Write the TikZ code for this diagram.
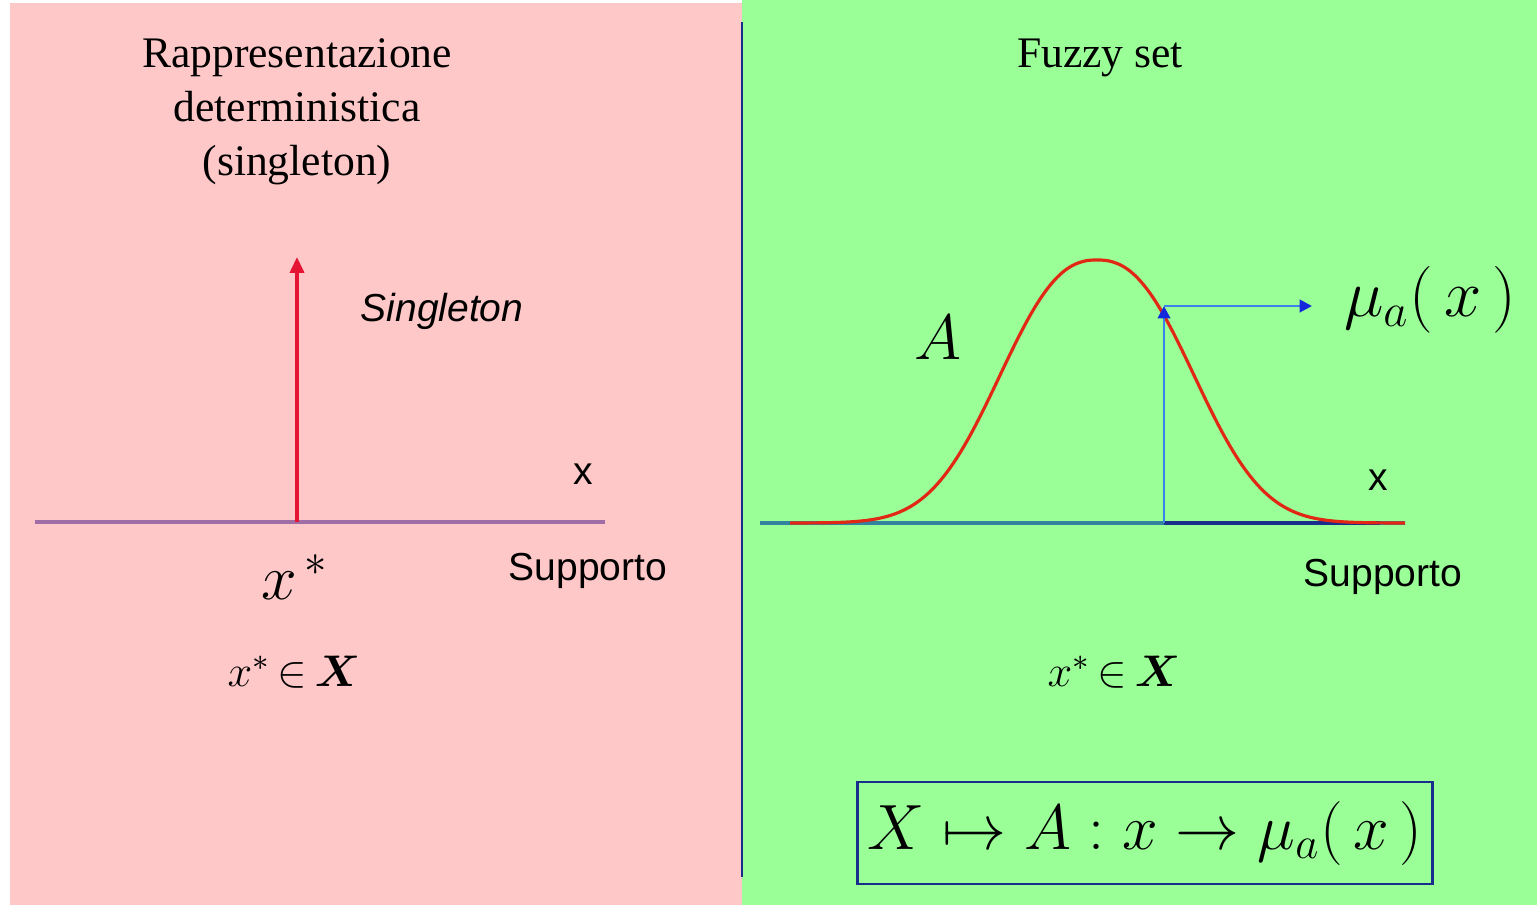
\RequirePackage{fix-cm}
\documentclass[tikz,border=0pt]{standalone}
\usepackage{amsmath,amssymb}
\usepackage{bm}
\usepackage{fontspec}
\setmainfont{Liberation Serif}
\setsansfont{Liberation Sans}
\usetikzlibrary{arrows.meta,positioning}
\definecolor{pinkbg}{RGB}{255,200,200}
\definecolor{greenbg}{RGB}{155,255,152}
\definecolor{spikered}{RGB}{228,20,50}
\definecolor{axispurple}{RGB}{160,110,165}
\definecolor{axisteal}{RGB}{50,130,160}
\definecolor{navy}{RGB}{25,45,140}
\definecolor{arrowblue}{RGB}{60,130,235}
\definecolor{headblue}{RGB}{20,40,220}
\definecolor{curvered}{RGB}{225,40,20}

\begin{document}
\begin{tikzpicture}[x=0.01cm,y=-0.01cm, every node/.style={inner sep=0pt,align=center},
  sanslabel/.style={font=\sffamily\fontsize{11.1}{13}\selectfont},
  titlelabel/.style={font=\fontsize{12.4}{15.4}\selectfont},
  biglabel/.style={font=\fontsize{18.2}{22}\selectfont},
  midlabel/.style={font=\fontsize{12.6}{15}\selectfont}]
\useasboundingbox (0,0) rectangle (1537,905);
\fill[pinkbg] (10,3) rectangle (742,905);
\fill[greenbg] (742,0) rectangle (1537,905);
\draw[navy,line width=0.8pt] (742,22) -- (742,877);

% left panel: singleton
\node[titlelabel] (ltitle) at (297,112) {Rappresentazione\\deterministica\\(singleton)};
\coordinate (laxL) at (35,522);
\coordinate (laxR) at (605,522);
\coordinate (spikebase) at (297,522);
\coordinate (spiketop) at (297,257);
\draw[axispurple,line width=0.9pt] (laxL) -- (laxR);
\draw[spikered,line width=0.9pt,-{Triangle[width=4pt,length=4.5pt]}] (spikebase) -- (spiketop);
\node[sanslabel,font=\sffamily\itshape\fontsize{11.1}{13}\selectfont] (singl) at (442,311) {Singleton};
\node[sanslabel] (lx) at (583,474) {x};
\node[sanslabel] (lsupp) at (588,571) {Supporto};
\node[biglabel] (xstar) at (295,577) {$x^{\,*}$};
\node[midlabel] (lin) at (294,672) {$x^{*}\,{\in}\,\bm{X}$};

% right panel: fuzzy set
\node[titlelabel] (rtitle) at (1100,58) {Fuzzy set};
\coordinate (raxL) at (760,523);
\coordinate (raxR) at (1405,523);
\coordinate (foot) at (1164,523);
\coordinate (hit) at (1164,306);
\coordinate (outp) at (1312,306);
\draw[axisteal,line width=0.9pt] (raxL) -- (raxR);
\draw[navy,line width=0.9pt] (foot) -- (1380,523);
\draw[curvered,line width=0.9pt] plot[domain=790:1405,samples=124,smooth]
  (\x,{523-263*exp(-((abs(\x-1097)+0.01)/122)^2.4)});
\draw[arrowblue,line width=0.8pt,-{Triangle[width=3.5pt,length=3.5pt,color=headblue]}] (foot) -- (hit);
\draw[arrowblue,line width=0.8pt,-{Triangle[width=3.5pt,length=3.5pt,color=headblue]}] (hit) -- (outp);
\node[biglabel,font=\fontsize{19}{22}\selectfont] (mu) at (1430,300) {$\mu_a(\,x\,)$};
\node[biglabel] (setA) at (938,338) {$A$};
\node[sanslabel] (rx) at (1378,480) {x};
\node[sanslabel] (rsupp) at (1383,577) {Supporto};
\node[midlabel] (rin) at (1114,672) {$x^{*}\,{\in}\,\bm{X}$};
\node[biglabel,draw=navy,line width=0.8pt,minimum width=5.74cm,minimum height=1.02cm] (mapbox) at (1145,833)
  {$X\mapsto A:x\rightarrow\mu_a(\,x\,)$};
\end{tikzpicture}
\end{document}
